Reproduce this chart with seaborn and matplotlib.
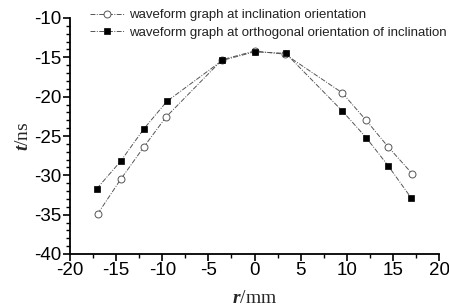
import matplotlib
matplotlib.use("Agg")
import matplotlib.pyplot as plt
import seaborn as sns
import pandas as pd
from matplotlib.ticker import MultipleLocator

r_incl = [-17.0, -14.5, -12.0, -9.6, -3.5, 0.0, 3.3, 9.5, 12.1, 14.5, 17.1]
t_incl = [-34.9, -30.5, -26.4, -22.6, -15.3, -14.2, -14.6, -19.5, -23.0, -26.4, -29.8]
r_orth = [-17.1, -14.5, -12.0, -9.5, -3.5, 0.0, 3.4, 9.5, 12.1, 14.5, 17.0]
t_orth = [-31.7, -28.2, -24.1, -20.6, -15.4, -14.3, -14.5, -21.8, -25.2, -28.8, -32.9]
labels = ["waveform graph at inclination orientation",
          "waveform graph at orthogonal orientation of inclination"]

sns.set_theme(style="ticks")
plt.rcParams["font.family"] = ["Liberation Sans", "DejaVu Sans"]
plt.rcParams["axes.unicode_minus"] = False
plt.rcParams["mathtext.fontset"] = "custom"
plt.rcParams["mathtext.it"] = "Liberation Serif:italic:bold"
plt.rcParams["mathtext.rm"] = "Liberation Serif"

df = pd.concat([
    pd.DataFrame({"r": r_incl, "t": t_incl, "s": labels[0]}),
    pd.DataFrame({"r": r_orth, "t": t_orth, "s": labels[1]}),
])

fig = plt.figure(figsize=(4.49, 3.07), dpi=100)
ax = fig.add_axes([70/449, 1-254/307, 369/449, 236/307])

styles = [dict(marker="o", mfc="white", mec="#555555", ms=5, mew=0.7),
          dict(marker="s", mfc="black", mec="black", ms=4.5, mew=0.5)]
for lab, st in zip(labels, styles):
    sub = df[df["s"] == lab]
    sns.lineplot(data=sub, x="r", y="t", ax=ax, sort=False, color="#555555",
                 lw=0.7, linestyle=(0, (5, 1.5, 1, 1.5)), label=lab,
                 estimator=None, **st)

ax.set_xlim(-20, 20)
ax.set_ylim(-40, -10)
ax.xaxis.set_major_locator(MultipleLocator(5))
ax.xaxis.set_minor_locator(MultipleLocator(2.5))
ax.yaxis.set_major_locator(MultipleLocator(5))
ax.yaxis.set_minor_locator(MultipleLocator(1))
ax.tick_params(which="major", direction="out", length=5, width=1.2, labelsize=13.5,
               colors="black", pad=1)
ax.tick_params(which="minor", direction="out", length=3, width=1, colors="black")
for sp in ["top", "right"]:
    ax.spines[sp].set_visible(False)
for sp in ["left", "bottom"]:
    ax.spines[sp].set_linewidth(1.3)
    ax.spines[sp].set_color("black")

ax.set_xlabel(r"$\mathit{r}$/mm", fontsize=14, family="Liberation Serif", labelpad=8)
ax.set_ylabel(r"$\mathit{t}$/ns", fontsize=14, family="Liberation Serif", labelpad=2)

leg = ax.legend(loc="upper left", bbox_to_anchor=(0.04, 1.06), frameon=False,
                fontsize=9.5, handlelength=2.6, handletextpad=0.35,
                labelspacing=0.4, borderaxespad=0)
for t in leg.get_texts():
    t.set_color("#222222")

fig.savefig("out.png", dpi=100)
